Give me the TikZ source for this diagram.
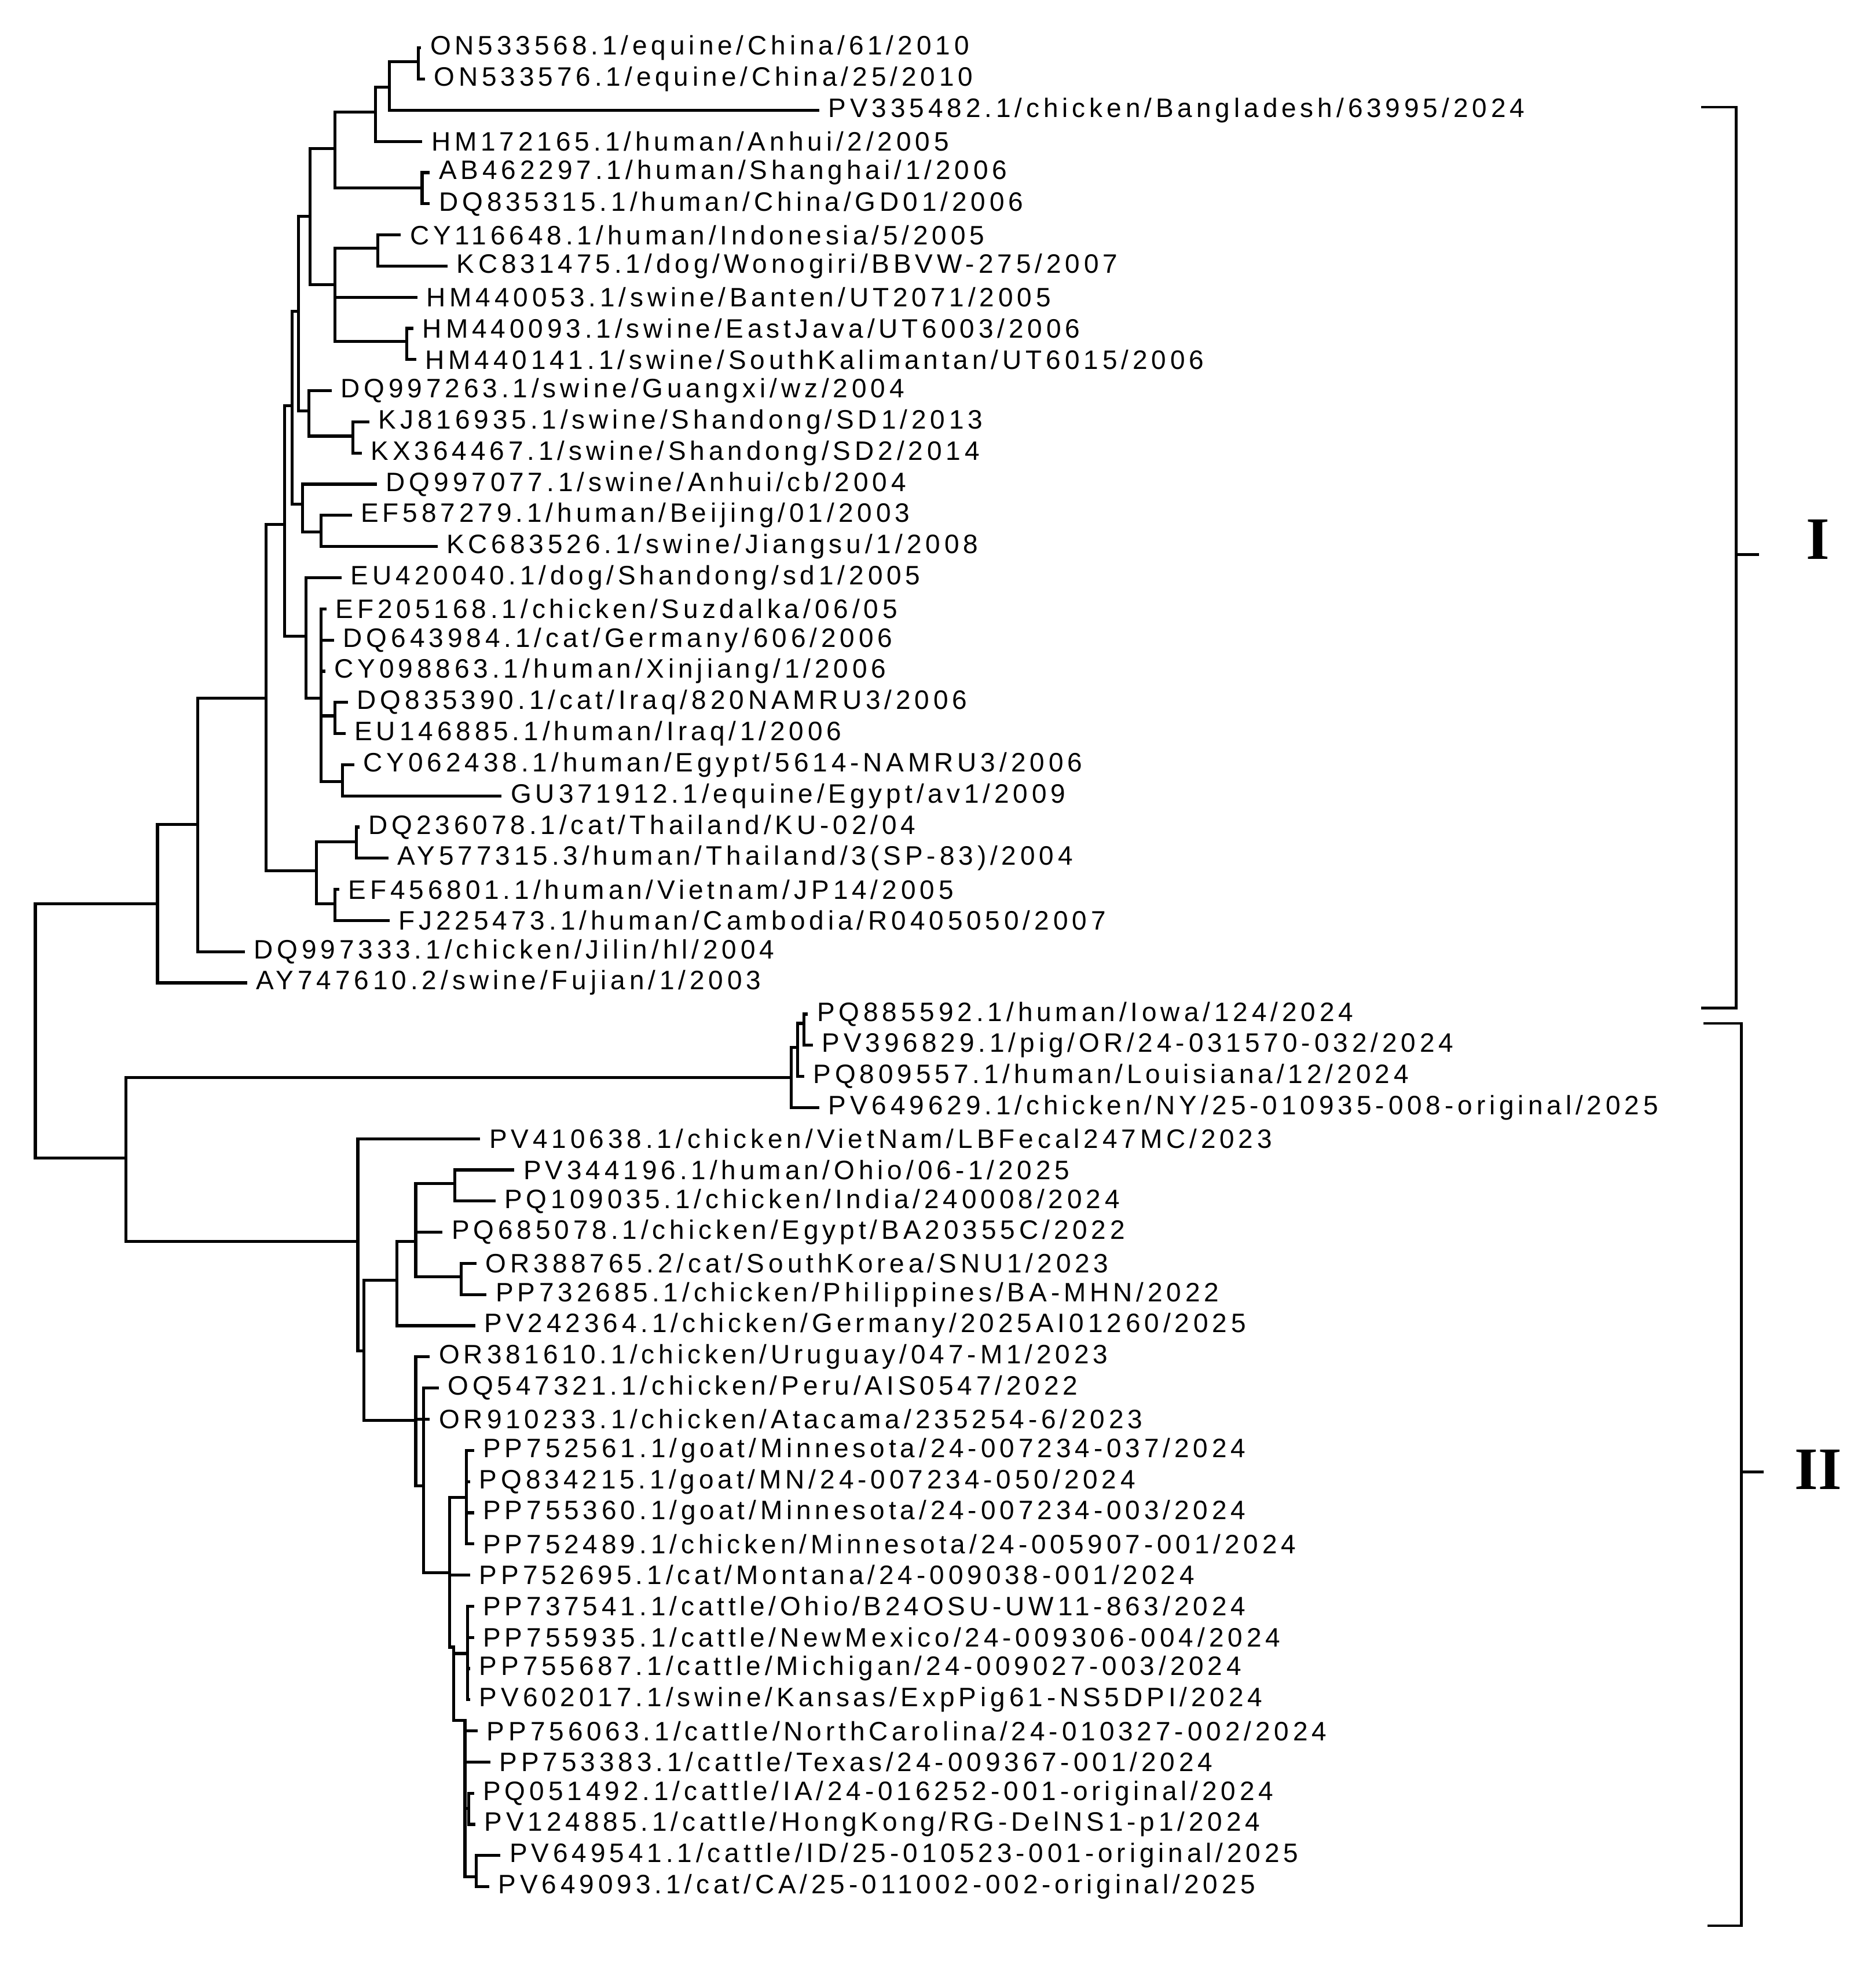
\documentclass[tikz,border=0pt]{standalone}
\usepackage{fontspec}
\setmainfont{Liberation Sans}[LetterSpace=15]
\newfontfamily\romanf{Liberation Serif}
\newcommand{\lf}[4]{\coordinate (#1) at (#2,{38+24.73*#3}); \node[lab] (#1t) at (#1) {#4};}
\newcommand{\nd}[3]{\coordinate (#1) at (#2,#3);}
\newcommand{\kids}[2]{\foreach \c in {#2} {\draw[br] (#1) |- (\c);}}
\begin{document}
\begin{tikzpicture}[x=0.544pt,y=-0.544pt,
  lab/.style={anchor=west,inner sep=0pt,xshift=4.4pt,font=\fontsize{11.5}{13}\selectfont},
  br/.style={line width=1.3pt,line cap=rect},
  brk/.style={line width=1.2pt},
  clade/.style={font=\romanf\bfseries\fontsize{26}{28}\selectfont,inner sep=0pt}]
\useasboundingbox (0,0) rectangle (1488.5,1570.3);
% leaves
\lf{l0}{333}{0}{ON533568.1/equine/China/61/2010}
\lf{l1}{336}{1}{ON533576.1/equine/China/25/2010}
\lf{l2}{649}{2}{PV335482.1/chicken/Bangladesh/63995/2024}
\lf{l3}{334}{3}{HM172165.1/human/Anhui/2/2005}
\lf{l4}{340}{4}{AB462297.1/human/Shanghai/1/2006}
\lf{l5}{340}{5}{DQ835315.1/human/China/GD01/2006}
\lf{l6}{317}{6}{CY116648.1/human/Indonesia/5/2005}
\lf{l7}{354}{7}{KC831475.1/dog/Wonogiri/BBVW-275/2007}
\lf{l8}{330}{8}{HM440053.1/swine/Banten/UT2071/2005}
\lf{l9}{327}{9}{HM440093.1/swine/EastJava/UT6003/2006}
\lf{l10}{329}{10}{HM440141.1/swine/SouthKalimantan/UT6015/2006}
\lf{l11}{262}{11}{DQ997263.1/swine/Guangxi/wz/2004}
\lf{l12}{292}{12}{KJ816935.1/swine/Shandong/SD1/2013}
\lf{l13}{286}{13}{KX364467.1/swine/Shandong/SD2/2014}
\lf{l14}{298}{14}{DQ997077.1/swine/Anhui/cb/2004}
\lf{l15}{278}{15}{EF587279.1/human/Beijing/01/2003}
\lf{l16}{346}{16}{KC683526.1/swine/Jiangsu/1/2008}
\lf{l17}{270}{17}{EU420040.1/dog/Shandong/sd1/2005}
\lf{l18}{258}{18}{EF205168.1/chicken/Suzdalka/06/05}
\lf{l19}{264}{19}{DQ643984.1/cat/Germany/606/2006}
\lf{l20}{257}{20}{CY098863.1/human/Xinjiang/1/2006}
\lf{l21}{275}{21}{DQ835390.1/cat/Iraq/820NAMRU3/2006}
\lf{l22}{273}{22}{EU146885.1/human/Iraq/1/2006}
\lf{l23}{280}{23}{CY062438.1/human/Egypt/5614-NAMRU3/2006}
\lf{l24}{397}{24}{GU371912.1/equine/Egypt/av1/2009}
\lf{l25}{284}{25}{DQ236078.1/cat/Thailand/KU-02/04}
\lf{l26}{307}{26}{AY577315.3/human/Thailand/3(SP-83)/2004}
\lf{l27}{268}{27}{EF456801.1/human/Vietnam/JP14/2005}
\lf{l28}{308}{28}{FJ225473.1/human/Cambodia/R0405050/2007}
\lf{l29}{193}{29}{DQ997333.1/chicken/Jilin/hl/2004}
\lf{l30}{195}{30}{AY747610.2/swine/Fujian/1/2003}
\lf{l31}{640}{31}{PQ885592.1/human/Iowa/124/2024}
\lf{l32}{644}{32}{PV396829.1/pig/OR/24-031570-032/2024}
\lf{l33}{637}{33}{PQ809557.1/human/Louisiana/12/2024}
\lf{l34}{649}{34}{PV649629.1/chicken/NY/25-010935-008-original/2025}
\lf{l35}{380}{35}{PV410638.1/chicken/VietNam/LBFecal247MC/2023}
\lf{l36}{407}{36}{PV344196.1/human/Ohio/06-1/2025}
\lf{l37}{392}{37}{PQ109035.1/chicken/India/240008/2024}
\lf{l38}{350}{38}{PQ685078.1/chicken/Egypt/BA20355C/2022}
\lf{l39}{377}{39}{OR388765.2/cat/SouthKorea/SNU1/2023}
\lf{l40}{385}{40}{PP732685.1/chicken/Philippines/BA-MHN/2022}
\lf{l41}{376}{41}{PV242364.1/chicken/Germany/2025AI01260/2025}
\lf{l42}{340}{42}{OR381610.1/chicken/Uruguay/047-M1/2023}
\lf{l43}{347}{43}{OQ547321.1/chicken/Peru/AIS0547/2022}
\lf{l44}{340}{44}{OR910233.1/chicken/Atacama/235254-6/2023}
\lf{l45}{375}{45}{PP752561.1/goat/Minnesota/24-007234-037/2024}
\lf{l46}{372}{46}{PQ834215.1/goat/MN/24-007234-050/2024}
\lf{l47}{375}{47}{PP755360.1/goat/Minnesota/24-007234-003/2024}
\lf{l48}{375}{48}{PP752489.1/chicken/Minnesota/24-005907-001/2024}
\lf{l49}{372}{49}{PP752695.1/cat/Montana/24-009038-001/2024}
\lf{l50}{375}{50}{PP737541.1/cattle/Ohio/B24OSU-UW11-863/2024}
\lf{l51}{375}{51}{PP755935.1/cattle/NewMexico/24-009306-004/2024}
\lf{l52}{372}{52}{PP755687.1/cattle/Michigan/24-009027-003/2024}
\lf{l53}{372}{53}{PV602017.1/swine/Kansas/ExpPig61-NS5DPI/2024}
\lf{l54}{378}{54}{PP756063.1/cattle/NorthCarolina/24-010327-002/2024}
\lf{l55}{388}{55}{PP753383.1/cattle/Texas/24-009367-001/2024}
\lf{l56}{375}{56}{PQ051492.1/cattle/IA/24-016252-001-original/2024}
\lf{l57}{376}{57}{PV124885.1/cattle/HongKong/RG-DelNS1-p1/2024}
\lf{l58}{396}{58}{PV649541.1/cattle/ID/25-010523-001-original/2025}
\lf{l59}{387}{59}{PV649093.1/cat/CA/25-011002-002-original/2025}
% internal nodes, clade I
\nd{n01}{332}{49} \nd{nA}{309}{69} \nd{nB}{298}{89} \nd{nAB}{335}{149}
\nd{nC}{266}{118} \nd{nCK}{300}{197} \nd{nHM}{323}{271} \nd{nE}{266}{226}
\nd{nD}{246}{171.5} \nd{nKJ}{280}{346} \nd{nH}{245}{326} \nd{nF}{237}{247}
\nd{nEK}{255}{422} \nd{nI}{240}{400} \nd{nG}{232}{322}
\nd{nDE}{266}{568} \nd{nCG}{272}{620} \nd{nM}{255}{554} \nd{nL}{243}{505}
\nd{nJ}{226}{416} \nd{nDA}{283}{668} \nd{nEF}{266}{717} \nd{nN}{251}{691}
\nd{nK}{211}{554} \nd{nO}{157}{654} \nd{nP}{125}{717} \nd{root}{28}{780}
% clade II
\nd{nQ}{100}{919} \nd{nR}{628}{855} \nd{nS}{633}{831} \nd{nT}{638}{812}
\nd{nU}{284}{985} \nd{nV}{289}{1072} \nd{nW}{315}{1016} \nd{nX}{330}{985}
\nd{nY}{361}{939} \nd{nZ}{366}{1013} \nd{nAA}{330}{1127} \nd{nAB2}{336}{1179}
\nd{nAC}{357}{1248} \nd{nAD}{370}{1188} \nd{nAE}{360}{1307}
\nd{nAF1}{371}{1312} \nd{nAF2}{369}{1365} \nd{nPV}{372}{1435} \nd{nAG}{378}{1489}
% edges
\kids{n01}{l0,l1} \kids{nA}{n01,l2} \kids{nB}{nA,l3} \kids{nAB}{l4,l5}
\kids{nC}{nB,nAB} \kids{nCK}{l6,l7} \kids{nHM}{l9,l10} \kids{nE}{nCK,l8,nHM}
\kids{nD}{nC,nE} \kids{nKJ}{l12,l13} \kids{nH}{l11,nKJ} \kids{nF}{nD,nH}
\kids{nEK}{l15,l16} \kids{nI}{l14,nEK} \kids{nG}{nF,nI}
\kids{nDE}{l21,l22} \kids{nCG}{l23,l24} \kids{nM}{l18,l19,l20,nDE,nCG} \kids{nL}{l17,nM}
\kids{nJ}{nG,nL} \kids{nDA}{l25,l26} \kids{nEF}{l27,l28} \kids{nN}{nDA,nEF}
\kids{nK}{nJ,nN} \kids{nO}{nK,l29} \kids{nP}{nO,l30}
\kids{root}{nP,nQ}
\kids{nT}{l31,l32} \kids{nS}{nT,l33} \kids{nR}{nS,l34}
\kids{nY}{l36,l37} \kids{nZ}{l39,l40} \kids{nX}{nY,l38,nZ} \kids{nW}{nX,l41}
\kids{nAD}{l45,l46,l47,l48} \kids{nAF1}{l50,l51,l52,l53} \kids{nPV}{l56,l57}
\kids{nAG}{l58,l59} \kids{nAF2}{l54,l55,nPV,nAG} \kids{nAE}{nAF1,nAF2}
\kids{nAC}{nAD,l49,nAE} \kids{nAB2}{l43,nAC} \kids{nAA}{l42,l44,nAB2}
\kids{nV}{nW,nAA} \kids{nU}{l35,nV} \kids{nQ}{nR,nU}
% brackets
\draw[brk] (1350,85) -- (1378,85) -- (1378,800) -- (1350,800);
\draw[brk] (1378,440) -- (1396,440);
\draw[brk] (1352,812) -- (1382,812) -- (1382,1528) -- (1355,1528);
\draw[brk] (1382,1168) -- (1400,1168);
\node[clade] (cI) at (1443,428) {I};
\node[clade] (cII) at (1443,1166) {II};
\end{tikzpicture}
\end{document}
